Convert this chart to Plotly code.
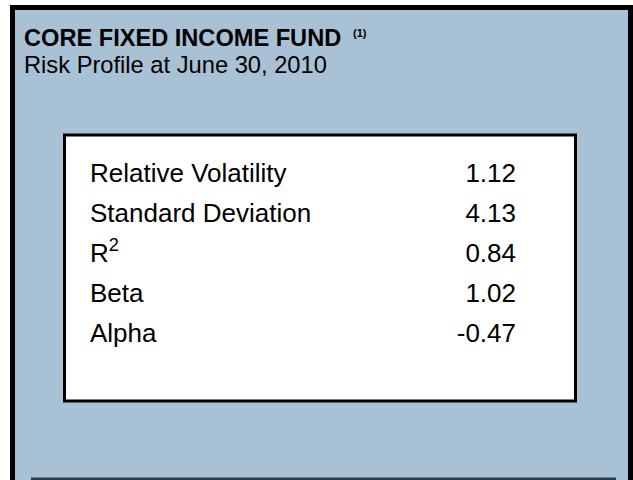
import plotly.graph_objects as go

# ---- data ----
title_text = "CORE FIXED INCOME FUND"
footnote_mark = "(1)"
subtitle_text = "Risk Profile at June 30, 2010"
measures = ["Relative Volatility", "Standard Deviation", "R<sup>2</sup>", "Beta", "Alpha"]
values = [1.12, 4.13, 0.84, 1.02, -0.47]

W, H = 633, 480
BLUE = "#a8c1d4"
FONT = "Liberation Sans, Arial, sans-serif"


def px(x):
    return x / W


def py(y):
    return 1 - y / H


fig = go.Figure()

# rows: index-based y axis, 40 px per row
rows = list(range(len(measures)))
fig.add_trace(go.Scatter(
    x=[px(90)] * len(measures), y=rows, mode="text",
    text=measures, textposition="middle right",
    textfont=dict(family=FONT, size=26, color="#000000"),
    hoverinfo="skip", showlegend=False,
))
fig.add_trace(go.Scatter(
    x=[px(516)] * len(values), y=rows, mode="text",
    text=[f"{v:.2f}" for v in values], textposition="middle left",
    textfont=dict(family=FONT, size=26, color="#000000"),
    hoverinfo="skip", showlegend=False,
))

shapes = [
    # blue panel
    dict(type="rect", xref="paper", yref="paper", x0=px(12), x1=px(631), y0=py(480), y1=py(7),
         fillcolor=BLUE, line=dict(width=0), layer="below"),
    # frame: top, left, right
    dict(type="rect", xref="paper", yref="paper", x0=px(10), x1=px(633), y0=py(10), y1=py(5),
         fillcolor="#000000", line=dict(width=0), layer="below"),
    dict(type="rect", xref="paper", yref="paper", x0=px(10), x1=px(15), y0=py(480), y1=py(5),
         fillcolor="#000000", line=dict(width=0), layer="below"),
    dict(type="rect", xref="paper", yref="paper", x0=px(628), x1=px(633), y0=py(480), y1=py(5),
         fillcolor="#000000", line=dict(width=0), layer="below"),
    # bottom dark rule
    dict(type="rect", xref="paper", yref="paper", x0=px(31), x1=px(616), y0=py(480), y1=py(477.5),
         fillcolor="#2b3a45", line=dict(width=0), layer="below"),
    # white box
    dict(type="rect", xref="paper", yref="paper", x0=px(64.5), x1=px(575.5), y0=py(401), y1=py(135),
         fillcolor="#ffffff", line=dict(color="#000000", width=3), layer="below"),
]

annotations = [
    dict(xref="paper", yref="paper", x=px(22), y=py(37.5), xanchor="left", yanchor="middle",
         text=f"<b>{title_text}</b>",
         showarrow=False, font=dict(family=FONT, size=23.6, color="#000000")),
    dict(xref="paper", yref="paper", x=px(351), y=py(33), xanchor="left", yanchor="middle",
         text=f"<b>{footnote_mark}</b>",
         showarrow=False, font=dict(family=FONT, size=11, color="#000000")),
    dict(xref="paper", yref="paper", x=px(22), y=py(64.5), xanchor="left", yanchor="middle",
         text=subtitle_text, showarrow=False, font=dict(family=FONT, size=23.7, color="#000000")),
]

fig.update_layout(
    width=W, height=H,
    margin=dict(l=0, r=0, t=0, b=0),
    paper_bgcolor="#ffffff", plot_bgcolor="rgba(0,0,0,0)",
    xaxis=dict(range=[0, 1], visible=False, fixedrange=True),
    yaxis=dict(range=[(H - 175) / 40, -175 / 40], visible=False, fixedrange=True),
    shapes=shapes, annotations=annotations,
    showlegend=False,
)

fig.write_html("out.html", config={"displayModeBar": False, "staticPlot": True})

# remove the default page margin so the figure sits at the window origin
with open("out.html", "r", encoding="utf-8") as f:
    html = f.read()
html = html.replace("<head>", "<head><style>html,body{margin:0;padding:0;overflow:hidden;}</style>", 1)
with open("out.html", "w", encoding="utf-8") as f:
    f.write(html)
